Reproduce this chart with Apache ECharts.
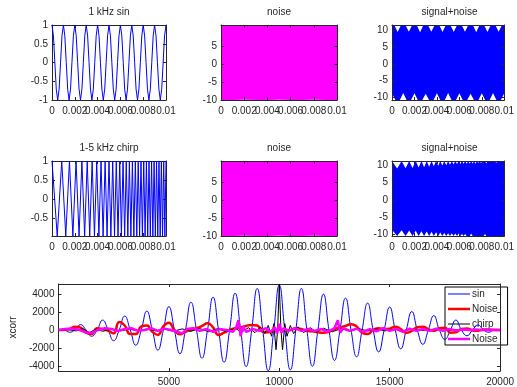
<!DOCTYPE html>
<html>
<head>
<meta charset="utf-8">
<script src="https://cdn.jsdelivr.net/npm/echarts@6/dist/echarts.min.js"></script>
<style>
  html, body { margin: 0; padding: 0; background: #fff; }
  #chart { width: 517px; height: 387px; }
</style>
</head>
<body>
<div id="chart"></div>
<script>
// ---- values ----

// 1 kHz sin, one sample every 1/8 period
var sinStep = 0.000125;
var sinVals = [
    1, 0.71, 0, -0.71, -1, -0.71, 0, 0.71,
    1, 0.71, 0, -0.71, -1, -0.71, 0, 0.71,
    1, 0.71, 0, -0.71, -1, -0.71, 0, 0.71,
    1, 0.71, 0, -0.71, -1, -0.71, 0, 0.71,
    1, 0.71, 0, -0.71, -1, -0.71, 0, 0.71,
    1, 0.71, 0, -0.71, -1, -0.71, 0, 0.71,
    1, 0.71, 0, -0.71, -1, -0.71, 0, 0.71,
    1, 0.71, 0, -0.71, -1, -0.71, 0, 0.71,
    1, 0.71, 0, -0.71, -1, -0.71, 0, 0.71,
    1, 0.71, 0, -0.71, -1, -0.71, 0, 0.71,
    1
];

// 1-5 kHz chirp: times (s) of its peaks and troughs
var chirpT = [
    0, 0.000458, 0.000854, 0.001208, 0.001531, 0.001830, 0.002110, 0.002373, 0.002623, 0.002862,
    0.003090, 0.003309, 0.003521, 0.003725, 0.003923, 0.004114, 0.004301, 0.004482, 0.004659, 0.004831,
    0.005000, 0.005165, 0.005326, 0.005484, 0.005639, 0.005792, 0.005941, 0.006088, 0.006232, 0.006374,
    0.006514, 0.006652, 0.006787, 0.006921, 0.007052, 0.007182, 0.007311, 0.007437, 0.007562, 0.007686,
    0.007808, 0.007928, 0.008048, 0.008165, 0.008282, 0.008397, 0.008511, 0.008624, 0.008736, 0.008847,
    0.008956, 0.009065, 0.009173, 0.009279, 0.009385, 0.009490, 0.009593, 0.009696, 0.009798, 0.009900,
    0.010000
];
var chirpVals = [
    1, -0.98, 1, -0.98, 1, -0.98, 1, -0.98, 1, -0.98,
    1, -0.98, 1, -0.98, 1, -0.98, 1, -0.98, 1, -0.98,
    1, -0.98, 1, -0.98, 1, -0.98, 1, -0.98, 1, -0.98,
    1, -0.98, 1, -0.98, 1, -0.98, 1, -0.98, 1, -0.98,
    1, -0.98, 1, -0.98, 1, -0.98, 1, -0.98, 1, -0.98,
    1, -0.98, 1, -0.98, 1, -0.98, 1, -0.98, 1, -0.98,
    1
];

// noise: top and bottom edge of the filled band
var noiseT = [0, 0.001, 0.002, 0.003, 0.004, 0.005, 0.006, 0.007, 0.008, 0.009, 0.01];
var noiseUpper = [11, 10.9, 11, 11, 10.95, 11, 11, 10.9, 11, 11, 11];
var noiseLower = [-10, -10, -9.9, -10, -10, -9.95, -10, -10, -9.9, -10, -10];

// sin + noise: band edges, notched at the sin troughs (top) and peaks (bottom)
var snUpperT = [
    0, 0.0002, 0.0005, 0.0008, 0.0012, 0.0015, 0.0018, 0.0022, 0.0025, 0.0028,
    0.0032, 0.0035, 0.0038, 0.0042, 0.0045, 0.0048, 0.0052, 0.0055, 0.0058, 0.0062,
    0.0065, 0.0068, 0.0072, 0.0075, 0.0078, 0.0082, 0.0085, 0.0088, 0.0092, 0.0095,
    0.0098, 0.01
];
var snUpperV = [
    11.6, 11.6, 9.5, 11.6, 11.6, 9.6, 11.6, 11.6, 9.4, 11.6,
    11.6, 9.6, 11.6, 11.6, 9.5, 11.6, 11.6, 9.5, 11.6, 11.6,
    9.6, 11.6, 11.6, 9.4, 11.6, 11.6, 9.5, 11.6, 11.6, 9.6,
    11.6, 11.6
];
var snLowerT = [
    0, 0.0003, 0.0007, 0.001, 0.0013, 0.0017, 0.002, 0.0023, 0.0027, 0.003,
    0.0033, 0.0037, 0.004, 0.0043, 0.0047, 0.005, 0.0053, 0.0057, 0.006, 0.0063,
    0.0067, 0.007, 0.0073, 0.0077, 0.008, 0.0083, 0.0087, 0.009, 0.0093, 0.0097,
    0.01
];
var snLowerV = [
    -8.8, -10.8, -10.8, -8.7, -10.8, -10.8, -8.8, -10.8, -10.8, -8.9,
    -10.8, -10.8, -8.8, -10.8, -10.8, -8.7, -10.8, -10.8, -8.8, -10.8,
    -10.8, -8.9, -10.8, -10.8, -8.8, -10.8, -10.8, -8.7, -10.8, -10.8,
    -8.8
];

// chirp + noise: band edges at the chirp peak/trough times
var scUpper = [
    11.3, 9.1, 11.3, 9.2, 11.3, 9.3, 11.3, 9.4, 11.3, 9.5,
    11.3, 9.6, 11.3, 9.8, 11.3, 9.9, 11.3, 10.0, 11.3, 10.1,
    11.3, 10.2, 11.3, 10.3, 11.3, 10.4, 11.3, 10.4, 11.3, 10.5,
    11.3, 10.5, 11.3, 10.6, 11.3, 10.6, 11.3, 10.5, 11.3, 10.7,
    11.3, 10.7, 11.3, 10.8, 11.3, 10.6, 11.3, 10.8, 11.3, 10.8,
    11.3, 10.9, 11.3, 10.7, 11.3, 10.9, 11.3, 10.9, 11.3, 11.0,
    11.3
];
var scLower = [
    -8.7, -10.5, -8.8, -10.5, -8.9, -10.5, -9.0, -10.5, -9.1, -10.5,
    -9.2, -10.5, -9.3, -10.5, -9.4, -10.5, -9.5, -10.5, -9.6, -10.5,
    -9.7, -10.5, -9.7, -10.5, -9.8, -10.5, -9.8, -10.5, -9.9, -10.5,
    -9.9, -10.5, -10.0, -10.5, -9.8, -10.5, -10.0, -10.5, -10.0, -10.5,
    -10.1, -10.5, -10.1, -10.5, -9.9, -10.5, -10.1, -10.5, -10.2, -10.5,
    -10.2, -10.5, -10.1, -10.5, -10.2, -10.5, -10.3, -10.5, -10.3, -10.5,
    -10.2
];

// xcorr, lag step 250 for the two sin curves
var lagStep = 250;
var xcSin = [
    0, 0, -250, 0,      600, 0, -700, 0,    1100, 0, -1200, 0,  1550, 0, -1700, 0,
    2100, 0, -2250, 0,  2600, 0, -2650, 0,  3100, 0, -3150, 0,  3650, 0, -3600, 0,
    4100, 0, -4080, 0,  4630, 0, -4550, 0,  5000, 0, -4450, 0,  4630, 0, -4050, 0,
    4000, 0, -3400, 0,  3550, 0, -3000, 0,  3000, 0, -2450, 0,  2550, 0, -2100, 0,
    2050, 0, -1600, 0,  1600, 0, -1050, 0,  1100, 0, -650, 0,   560, 0, -250, 0,
    0
];
var xcSinNoise = [
    0, 20, 100, 370,       250, -300, -450, 190,    100, -100, -370, 900,    500, -450, -450, 400,
    500, -200, -550, 400,  800, 0, -480, -200,      0, 200, 450, 740,        300, -560, -300, 0,
    200, 300, 450, 560,    500, -190, -250, -100,   50, -50, 0, 150,         100, -100, -150, -250,
    -300, -200, 100, 300,  450, 650, 400, -300,     -450, 0, 200, 100,       150, 370, 100, -300,
    -100, 300, 370, 100,   -100, 200, 250, -300,    -250, 100, 150, -50,     -100, 50, 30, 0,
    0
];
var xcChirpLag = [
    0, 400, 800, 1100, 1400, 1700, 2000, 2400, 2800, 3200,
    3600, 4000, 4400, 4800, 5200, 5600, 6000, 6400, 6800, 7200,
    7600, 8000, 8300, 8600, 8900, 9150, 9350, 9500, 9650, 9750,
    9853, 9925, 10000, 10075, 10147, 10250, 10350, 10500, 10650, 10850,
    11100, 11400, 11700, 12000, 12400, 12800, 13200, 13600, 14000, 14400,
    14800, 15200, 15600, 16000, 16500, 17000, 17500, 18000, 19000, 20000
];
var xcChirp = [
    0, 50, -100, 150, -300, 100, -150, 100, -100, 80,
    -80, 100, -100, 100, -150, 120, -150, 150, -200, 150,
    -200, 200, -250, 250, -300, 350, -400, 500, -700, 700,
    -2200, 0, 5130, 0, -2200, 700, -700, 500, -400, 350,
    -300, 250, -250, 200, -200, 150, -150, 150, -120, 100,
    -100, 100, -80, 80, -60, 50, -50, 40, 0, 0
];
var xcChirpNoiseLag = [
    0, 300, 600, 900, 1200, 1500, 1800, 2100, 2400, 2700,
    3000, 3300, 3600, 3900, 4200, 4500, 4800, 5100, 5400, 5600,
    5800, 6100, 6400, 6700, 7000, 7300, 7600, 7900, 8050, 8150,
    8250, 8350, 8500, 8800, 9100, 9400, 9600, 9800, 9900, 10000,
    10100, 10200, 10400, 10700, 11000, 11300, 11600, 11900, 12200, 12500,
    12650, 12750, 12900, 13200, 13500, 13800, 14100, 14400, 14700, 15000,
    15300, 15600, 15900, 16200, 16500, 16800, 17100, 17400, 17700, 18000,
    18300, 18600, 18900, 19200, 19500, 20000
];
var xcChirpNoise = [
    0, 100, 150, 50, -250, -300, 0, 200, 100, -100,
    100, 200, -100, 0, 200, -100, 150, 0, -200, -400,
    100, 200, -100, 100, -200, 100, 0, -200, 300, 1100,
    -700, 400, -200, 100, -100, 200, -200, 300, -400, 700,
    -300, 200, -100, 200, -100, 100, -100, 100, -200, 200,
    1100, -300, 200, -100, 150, -200, 100, -150, 200, -100,
    100, -200, 150, -100, 100, -100, 150, -100, 100, -50,
    50, 0, 50, 0, 20, 0
];

var FONT = '"Liberation Sans", Arial, Helvetica, sans-serif';
var INK = '#262626';
// legend line samples; the outer moveTo points fix the box the path is scaled into
var THIN_ICON = 'path://M0,0M0,10M0,4.5h22v1h-22z';
var THICK_ICON = 'path://M0,0M0,10M0,3.75h22v2.5h-22z';

/**
 * Pair x values with y values.
 * @param {number[]} xs
 * @param {number[]} ys
 * @returns {number[][]}
 */
function zip(xs, ys) {
    return ys.map(function (y, i) { return [xs[i], y]; });
}

/**
 * Pair evenly sampled values with their positions.
 * @param {number} step
 * @param {number[]} ys
 * @returns {number[][]}
 */
function sampled(step, ys) {
    return ys.map(function (y, i) { return [i * step, y]; });
}

/**
 * Build one axis of a boxed (Octave-like) panel.
 * @param {string} dim 'x' or 'y'
 * @param {number} gridIndex
 * @param {object} spec { min, max, ticks, labels }
 * @param {boolean} mirror true for the top / right copy
 * @returns {object}
 */
function makeAxis(dim, gridIndex, spec, mirror) {
    var pos = dim === 'x' ? (mirror ? 'top' : 'bottom') : (mirror ? 'right' : 'left');
    return {
        type: 'value',
        gridIndex: gridIndex,
        position: pos,
        min: spec.min,
        max: spec.max,
        z: 3,
        axisLine: { show: true, onZero: false, lineStyle: { color: INK, width: 1 } },
        axisTick: { show: true, inside: true, length: 3, customValues: spec.ticks, lineStyle: { color: INK } },
        axisLabel: {
            show: !mirror,
            customValues: spec.labels || spec.ticks,
            showMinLabel: true,
            showMaxLabel: true,
            margin: dim === 'x' ? 6 : 4,
            color: INK,
            fontFamily: FONT,
            fontSize: 10,
            formatter: function (v) { return String(v); }
        },
        splitLine: { show: false }
    };
}

var timeAxis = { min: 0, max: 0.01, ticks: [0, 0.002, 0.004, 0.006, 0.008, 0.01] };
var noiseAxis = { min: -10, max: 11, ticks: [-10, -5, 0, 5] };

var panels = [
    { rect: { left: 52, top: 25, width: 114, height: 75 }, title: '1 kHz sin',
      x: timeAxis, y: { min: -1, max: 1, ticks: [-1, -0.5, 0, 0.5, 1] } },
    { rect: { left: 221, top: 25, width: 116, height: 75 }, title: 'noise',
      x: timeAxis, y: noiseAxis },
    { rect: { left: 392, top: 25, width: 115, height: 75 }, title: 'signal+noise',
      x: timeAxis, y: { min: -10.8, max: 11.6, ticks: [-10, -5, 0, 5, 10] } },
    { rect: { left: 52, top: 161, width: 114, height: 75 }, title: '1-5 kHz chirp',
      x: timeAxis, y: { min: -0.98, max: 1, ticks: [-0.5, 0, 0.5, 1] } },
    { rect: { left: 221, top: 161, width: 116, height: 75 }, title: 'noise',
      x: timeAxis, y: noiseAxis },
    { rect: { left: 392, top: 161, width: 115, height: 75 }, title: 'signal+noise',
      x: timeAxis, y: { min: -10.5, max: 11.3, ticks: [-10, -5, 0, 5, 10] } },
    { rect: { left: 52, top: 284, width: 455, height: 87 }, title: null,
      x: { min: 0, max: 20000, ticks: [0, 5000, 10000, 15000, 20000], labels: [5000, 10000, 15000, 20000] },
      y: { min: -4580, max: 5130, ticks: [-4000, -2000, 0, 2000, 4000] } }
];

var grids = [], xAxes = [], yAxes = [], titles = [];
panels.forEach(function (p, g) {
    grids.push(p.rect);
    xAxes.push(makeAxis('x', g, p.x, false), makeAxis('x', g, p.x, true));
    yAxes.push(makeAxis('y', g, p.y, false), makeAxis('y', g, p.y, true));
    if (p.title) {
        titles.push({
            text: p.title,
            left: p.rect.left + p.rect.width / 2,
            top: p.rect.top - 18,
            textAlign: 'center',
            padding: 0,
            textStyle: { fontFamily: FONT, fontSize: 10, fontWeight: 'normal', color: INK }
        });
    }
});
yAxes[12].name = 'xcorr';
yAxes[12].nameLocation = 'middle';
yAxes[12].nameGap = 36;
yAxes[12].nameTextStyle = { fontFamily: FONT, fontSize: 10, color: INK };

/**
 * A plain line in panel g.
 */
function lineSeries(g, name, data, color, width, smooth) {
    return {
        type: 'line', name: name, xAxisIndex: 2 * g, yAxisIndex: 2 * g,
        data: data, symbol: 'none', smooth: !!smooth,
        lineStyle: { color: color, width: width }, itemStyle: { color: color }
    };
}

/**
 * One edge of a filled band in panel g, filled down to the bottom of the axis.
 * The top edge is painted in the band colour, the bottom edge in white over it.
 */
function bandSeries(g, data, color) {
    return {
        type: 'line', xAxisIndex: 2 * g, yAxisIndex: 2 * g, data: data, symbol: 'none',
        lineStyle: { color: color, width: 0 },
        areaStyle: { color: color, opacity: 1, origin: 'start' }
    };
}

var series = [
    lineSeries(0, 'sin1k', sampled(sinStep, sinVals), '#0000ff', 1),
    bandSeries(1, zip(noiseT, noiseUpper), '#ff00ff'),
    bandSeries(1, zip(noiseT, noiseLower), '#ffffff'),
    bandSeries(2, zip(snUpperT, snUpperV), '#0000ff'),
    bandSeries(2, zip(snLowerT, snLowerV), '#ffffff'),
    lineSeries(3, 'chirp1-5k', zip(chirpT, chirpVals), '#0000ff', 1),
    bandSeries(4, zip(noiseT, noiseUpper), '#ff00ff'),
    bandSeries(4, zip(noiseT, noiseLower), '#ffffff'),
    bandSeries(5, zip(chirpT, scUpper), '#0000ff'),
    bandSeries(5, zip(chirpT, scLower), '#ffffff'),
    lineSeries(6, 'sin', sampled(lagStep, xcSin), '#0000ff', 1, true),
    lineSeries(6, 'Noise', sampled(lagStep, xcSinNoise), '#ff0000', 2.5, true),
    lineSeries(6, 'chirp', zip(xcChirpLag, xcChirp), '#000000', 1),
    lineSeries(6, 'chirp noise', zip(xcChirpNoiseLag, xcChirpNoise), '#ff00ff', 2.5)
];

var chart = echarts.init(document.getElementById('chart'), null, { renderer: 'canvas' });
chart.setOption({
    animation: false,
    backgroundColor: '#fff',
    title: titles,
    grid: grids,
    xAxis: xAxes,
    yAxis: yAxes,
    legend: {
        data: [
            { name: 'sin', icon: THIN_ICON },
            { name: 'Noise', icon: THICK_ICON },
            { name: 'chirp', icon: THIN_ICON },
            { name: 'chirp noise', icon: THICK_ICON }
        ],
        orient: 'vertical',
        left: 445,
        top: 287,
        z: 1,
        padding: [2, 10, 1, 3],
        itemGap: 5,
        itemWidth: 22,
        itemHeight: 10,
        selectedMode: false,
        backgroundColor: 'transparent',
        borderColor: '#000',
        borderWidth: 1,
        textStyle: { fontFamily: FONT, fontSize: 10, color: INK, padding: [0, 0, 0, -3] },
        formatter: function (name) { return name === 'chirp noise' ? 'Noise' : name; }
    },
    series: series
});
</script>
</body>
</html>
